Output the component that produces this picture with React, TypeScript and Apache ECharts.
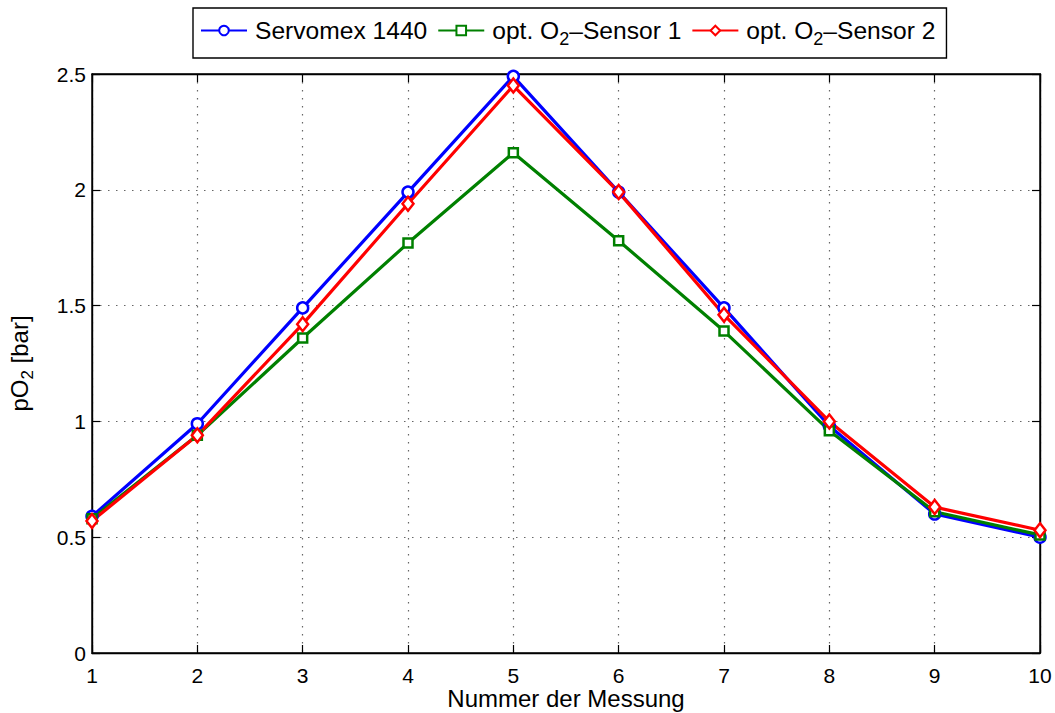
import React, { useEffect, useRef } from "react";
import * as echarts from "echarts";

// Measurement index (1..10)
const messungen = [1, 2, 3, 4, 5, 6, 7, 8, 9, 10];
// Reference analyser
const servomex = [0.59, 0.99, 1.49, 1.99, 2.49, 1.99, 1.49, 0.98, 0.60, 0.50];
// Optical oxygen sensors
const sensor1 = [0.58, 0.94, 1.36, 1.77, 2.16, 1.78, 1.39, 0.96, 0.61, 0.51];
const sensor2 = [0.57, 0.94, 1.42, 1.94, 2.45, 1.99, 1.46, 1.00, 0.63, 0.53];

const seriesNames = ["Servomex 1440", "opt. O2-Sensor 1", "opt. O2-Sensor 2"];
const legendLabels: Record<string, string> = {
  "Servomex 1440": "{t|Servomex 1440}",
  "opt. O2-Sensor 1": "{t|opt. O}{s|2}{t|\u2013Sensor 1}",
  "opt. O2-Sensor 2": "{t|opt. O}{s|2}{t|\u2013Sensor 2}",
};

const FONT = "Liberation Sans, Arial, Helvetica, sans-serif";

export default function App() {
  const ref = useRef<HTMLDivElement>(null);

  useEffect(() => {
    if (!ref.current) return;
    const chart = echarts.init(ref.current, undefined, { renderer: "svg" });

    const pts = (vals: number[]) => messungen.map((m, i) => [m, vals[i]]);
    const lineSeries = (
      name: string,
      vals: number[],
      color: string,
      symbol: string,
      size: number | number[]
    ) => ({
      name,
      type: "line",
      data: pts(vals),
      symbol,
      symbolSize: size,
      showAllSymbol: true,
      lineStyle: { color, width: 3.2 },
      itemStyle: { color: "#ffffff", borderColor: color, borderWidth: 2.5 },
      emphasis: { disabled: true },
    });

    const makeRich = (size: number, sub: number, shift: number) => ({
      t: { fontSize: size, fontFamily: FONT, color: "#000", lineHeight: size + 4 },
      s: {
        fontSize: sub,
        fontFamily: FONT,
        color: "#000",
        lineHeight: size + 4,
        padding: [shift, 0, 0, 0],
      },
    });

    const tick = { show: true, inside: true, length: 8, lineStyle: { color: "#000", width: 1.2 } };
    const axLine = { show: true, onZero: false, lineStyle: { color: "#000", width: 1.4 } };
    const grid = { show: true, lineStyle: { color: "#666", type: [1.5, 6.5], width: 1.2 } };

    chart.setOption({
      animation: false,
      backgroundColor: "#ffffff",
      grid: {
        left: 92,
        right: 15,
        top: 74,
        bottom: 60,
        outerBoundsMode: "none",
        containLabel: false,
        show: true,
        borderColor: "#000",
        borderWidth: 1.4,
      },
      legend: {
        data: seriesNames,
        left: 193,
        top: 8,
        orient: "horizontal",
        padding: [5, 11, 10, 7],
        itemGap: 10,
        itemWidth: 46,
        itemHeight: 12,
        borderColor: "#000",
        borderWidth: 1.4,
        backgroundColor: "#fff",
        formatter: (n: string) => legendLabels[n],
        textStyle: { rich: makeRich(24.6, 18, 17), padding: [0, 0, 0, 3] },
      },
      xAxis: [
        {
          type: "value",
          min: 1,
          max: 10,
          interval: 1,
          name: "Nummer der Messung",
          nameLocation: "middle",
          nameGap: 45,
          nameMoveOverlap: false,
          nameTextStyle: {
            fontSize: 24,
            lineHeight: 22,
            fontFamily: FONT,
            color: "#000",
            verticalAlign: "middle",
          },
          axisLine: axLine,
          axisTick: tick,
          axisLabel: {
            fontSize: 21,
            lineHeight: 20,
            fontFamily: FONT,
            color: "#000",
            margin: 12,
          },
          splitLine: grid,
        },
        {
          type: "value",
          position: "top",
          min: 1,
          max: 10,
          interval: 1,
          axisLine: axLine,
          axisTick: tick,
          axisLabel: { show: false },
          splitLine: { show: false },
        },
      ],
      yAxis: [
        {
          type: "value",
          min: 0,
          max: 2.5,
          interval: 0.5,
          name: "{t|pO}{s|2}{t| [bar]}",
          nameLocation: "middle",
          nameGap: 59,
          nameMoveOverlap: false,
          nameRotate: 90,
          nameTextStyle: { rich: makeRich(24, 17, 16) },
          axisLine: axLine,
          axisTick: tick,
          axisLabel: { fontSize: 21, fontFamily: FONT, color: "#000", margin: 6 },
          splitLine: grid,
        },
        {
          type: "value",
          position: "right",
          min: 0,
          max: 2.5,
          interval: 0.5,
          axisLine: axLine,
          axisTick: tick,
          axisLabel: { show: false },
          splitLine: { show: false },
        },
      ],
      series: [
        lineSeries(seriesNames[0], servomex, "#0000ff", "circle", 11),
        lineSeries(seriesNames[1], sensor1, "#008000", "rect", 9),
        lineSeries(seriesNames[2], sensor2, "#ff0000", "diamond", [11, 14]),
      ],
    });

    return () => chart.dispose();
  }, []);

  return (
    <div
      ref={ref}
      style={{ position: "absolute", left: 0, top: 0, width: 1055, height: 713 }}
    />
  );
}
